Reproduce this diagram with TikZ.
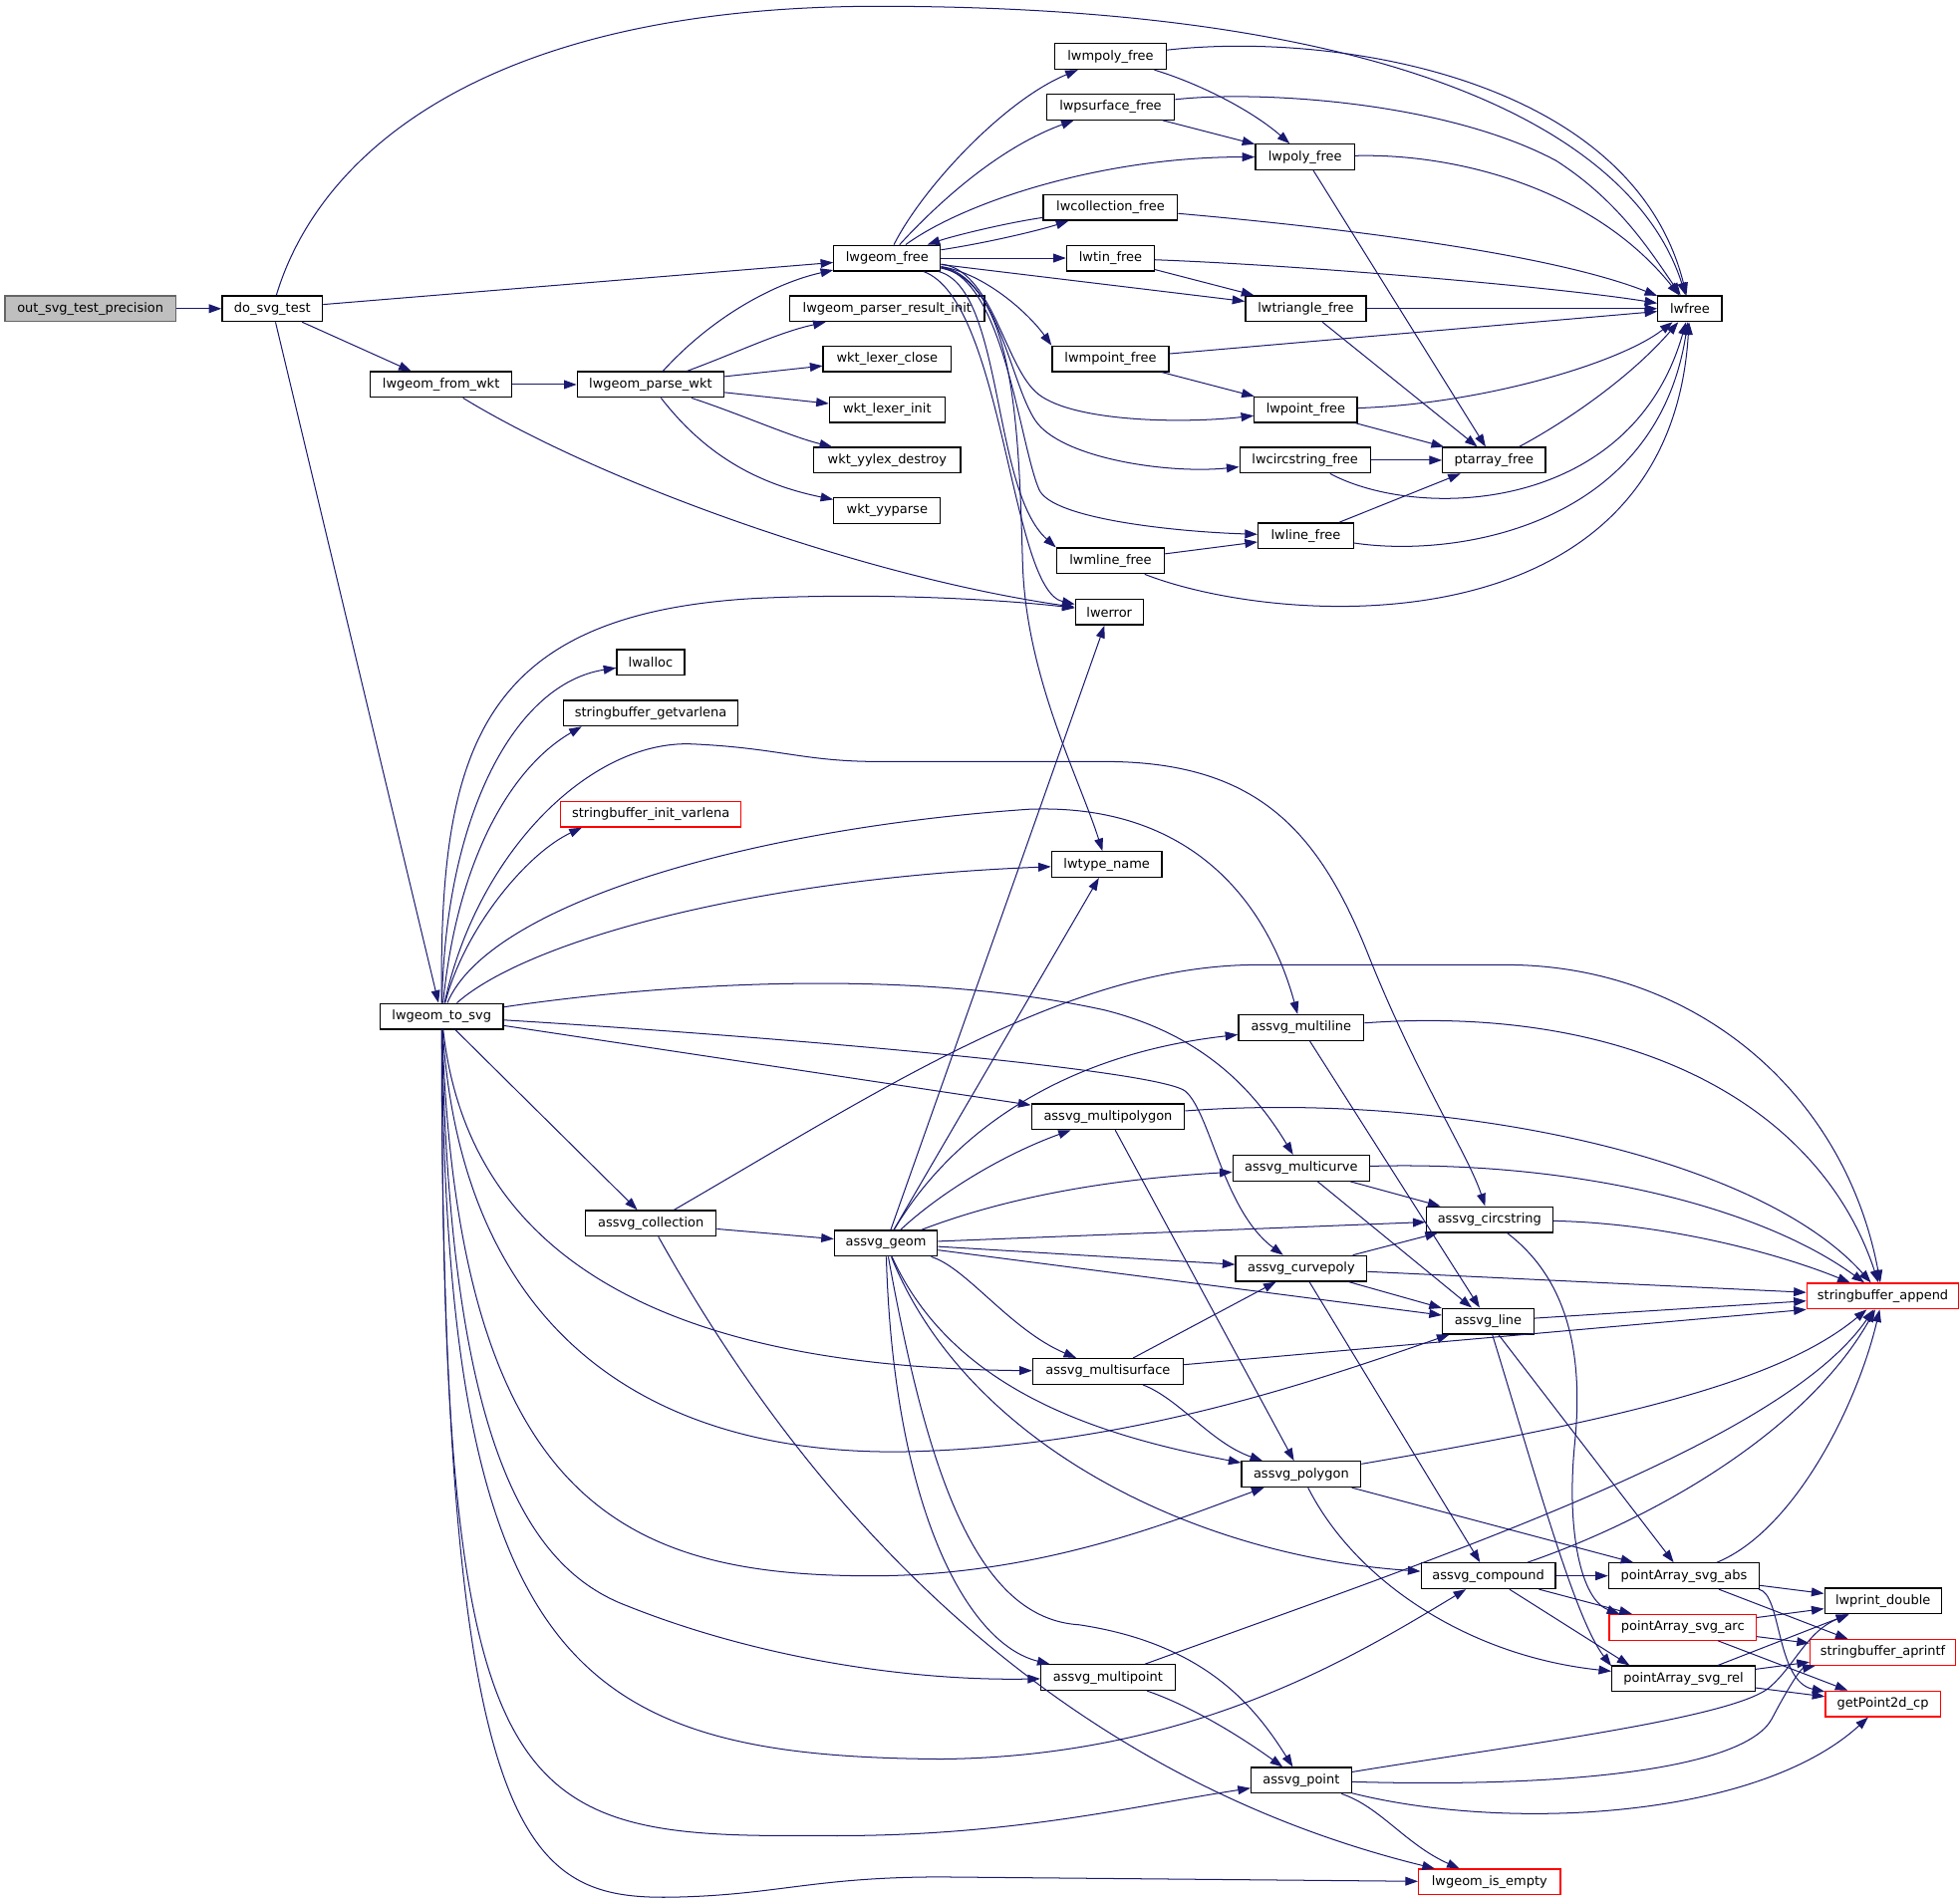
\documentclass[tikz,border=0pt]{standalone}
\usepackage{fontspec}
\setmainfont{DejaVu Sans}
\usepackage{xcolor}
\usepackage{tikz}
\usetikzlibrary{arrows.meta}
\definecolor{edgeblue}{RGB}{25,25,112}
\definecolor{rootgray}{RGB}{191,191,191}

\begin{document}
\begin{tikzpicture}[x=1pt, y=-1pt,
  fn/.style={draw=black, fill=white, line width=1pt, minimum height=20.4pt, inner sep=0pt, font=\fontsize{10.3}{12}\selectfont},
  fnred/.style={fn, draw=red},
  fnroot/.style={fn, draw=black!60, fill=rootgray},
  call/.style={edgeblue, line width=0.8pt, -{Triangle[length=10pt,width=7pt]}}]
\useasboundingbox (0,0) rectangle (1562,1514);

\node[fnroot, minimum width=136pt] (root) at (72,246) {out\_svg\_test\_precision};
\node[fn, minimum width=80pt] (dosvg) at (217,246) {do\_svg\_test};
\node[fn, minimum width=113pt] (fromwkt) at (351.5,306.5) {lwgeom\_from\_wkt};
\node[fn, minimum width=117pt] (parsewkt) at (518.5,306.5) {lwgeom\_parse\_wkt};
\node[fn, minimum width=85pt] (lwgeomfree) at (707,205.7) {lwgeom\_free};
\node[fn, minimum width=155pt] (resinit) at (707,246) {lwgeom\_parser\_result\_init};
\node[fn, minimum width=102pt] (lexclose) at (707,286) {wkt\_lexer\_close};
\node[fn, minimum width=92pt] (lexinit) at (707,326.6) {wkt\_lexer\_init};
\node[fn, minimum width=117pt] (yylexdestroy) at (707,366.8) {wkt\_yylex\_destroy};
\node[fn, minimum width=85pt] (yyparse) at (707,407) {wkt\_yyparse};
\node[fn, minimum width=89pt] (mpolyfree) at (885,45) {lwmpoly\_free};
\node[fn, minimum width=102pt] (psurffree) at (885,85.2) {lwpsurface\_free};
\node[fn, minimum width=107pt] (collfree) at (885,165.4) {lwcollection\_free};
\node[fn, minimum width=70pt] (tinfree) at (885,205.7) {lwtin\_free};
\node[fn, minimum width=93pt] (mpointfree) at (885,286) {lwmpoint\_free};
\node[fn, minimum width=86pt] (mlinefree) at (885,447) {lwmline\_free};
\node[fn, minimum width=54pt] (lwerror) at (884,487.8) {lwerror};
\node[fn, minimum width=79pt] (polyfree) at (1040,125.2) {lwpoly\_free};
\node[fn, minimum width=96pt] (trifree) at (1040.6,246) {lwtriangle\_free};
\node[fn, minimum width=82pt] (pointfree) at (1040.6,326.6) {lwpoint\_free};
\node[fn, minimum width=104pt] (circfree) at (1040,366.8) {lwcircstring\_free};
\node[fn, minimum width=76pt] (linefree) at (1040.6,427) {lwline\_free};
\node[fn, minimum width=82pt] (ptarrayfree) at (1190.6,366.8) {ptarray\_free};
\node[fn, minimum width=51pt] (lwfree) at (1346.7,246) {lwfree};
\node[fn, minimum width=54pt] (lwalloc) at (518.5,528) {lwalloc};
\node[fn, minimum width=139pt] (getvarlena) at (518.6,568.4) {stringbuffer\_getvarlena};
\node[fnred, minimum width=144pt] (initvarlena) at (518.7,649) {stringbuffer\_init\_varlena};
\node[fn, minimum width=88pt] (typename) at (882,689) {lwtype\_name};
\node[fn, minimum width=98pt] (tosvg) at (352,810) {lwgeom\_to\_svg};
\node[fn, minimum width=100pt] (mline) at (1037,819) {assvg\_multiline};
\node[fn, minimum width=122pt] (mpoly) at (883,890) {assvg\_multipolygon};
\node[fn, minimum width=109pt] (mcurve) at (1037,931) {assvg\_multicurve};
\node[fn, minimum width=104pt] (coll) at (518.7,975) {assvg\_collection};
\node[fn, minimum width=101pt] (circ) at (1187,972) {assvg\_circstring};
\node[fn, minimum width=82pt] (geom) at (706,991) {assvg\_geom};
\node[fn, minimum width=104.5pt] (cpoly) at (1037,1011) {assvg\_curvepoly};
\node[fnred, minimum width=121pt] (append) at (1500.5,1033) {stringbuffer\_append};
\node[fn, minimum width=73pt] (line) at (1186,1053) {assvg\_line};
\node[fn, minimum width=120pt] (msurf) at (883,1093) {assvg\_multisurface};
\node[fn, minimum width=95pt] (poly) at (1037,1175) {assvg\_polygon};
\node[fn, minimum width=107pt] (compound) at (1186,1256) {assvg\_compound};
\node[fn, minimum width=120pt] (abs) at (1342,1256) {pointArray\_svg\_abs};
\node[fn, minimum width=93pt] (lwprint) at (1500.6,1276) {lwprint\_double};
\node[fnred, minimum width=117pt] (arc) at (1341,1297) {pointArray\_svg\_arc};
\node[fnred, minimum width=116pt] (aprintf) at (1500.5,1317) {stringbuffer\_aprintf};
\node[fn, minimum width=107pt] (mpoint) at (883,1337) {assvg\_multipoint};
\node[fn, minimum width=114pt] (rel) at (1341.6,1338) {pointArray\_svg\_rel};
\node[fnred, minimum width=91.5pt] (getpoint) at (1500.5,1358) {getPoint2d\_cp};
\node[fn, minimum width=80pt] (point) at (1037,1419) {assvg\_point};
\node[fnred, minimum width=113pt] (isempty) at (1187,1500) {lwgeom\_is\_empty};

\draw[call] (root) -- (dosvg);
\draw[call] (dosvg) -- (lwgeomfree);
\draw[call] (dosvg) .. controls (255,120) and (390,5) .. (700,5) .. controls (1100,5) and (1300,100) .. (lwfree);
\draw[call] (dosvg) -- (fromwkt);
\draw[call] (dosvg) -- (tosvg);
\draw[call] (fromwkt) -- (parsewkt);
\draw[call] (fromwkt) .. controls (480,385) and (690,460) .. (lwerror);
\draw[call] (parsewkt) .. controls (570,250) and (620,225) .. (lwgeomfree);
\draw[call] (parsewkt) .. controls (590,280) and (620,265) .. (resinit);
\draw[call] (parsewkt) -- (lexclose);
\draw[call] (parsewkt) -- (lexinit);
\draw[call] (parsewkt) .. controls (590,330) and (630,348) .. (yylexdestroy);
\draw[call] (parsewkt) .. controls (560,360) and (600,385) .. (yyparse);

\draw[call] (lwgeomfree) .. controls (735,150) and (800,80) .. (mpolyfree);
\draw[call] (lwgeomfree) .. controls (740,170) and (790,120) .. (psurffree);
\draw[call] (lwgeomfree) .. controls (770,160) and (880,125) .. (polyfree);
\draw[call] (lwgeomfree) .. controls (790,193) and (830,183) .. (collfree);
\draw[call] (collfree) .. controls (800,178) and (760,188) .. (lwgeomfree);
\draw[call] (lwgeomfree) -- (tinfree);
\draw[call] (lwgeomfree) -- (trifree);
\draw[call] (lwgeomfree) .. controls (785,218) and (820,250) .. (mpointfree.north west);
\draw[call] (lwgeomfree) .. controls (790,215) and (800,288) .. (825,312) .. controls (850,336) and (940,338) .. (pointfree);
\draw[call] (lwgeomfree) .. controls (795,220) and (805,305) .. (825,335) .. controls (845,365) and (930,378) .. (circfree);
\draw[call] (lwgeomfree) .. controls (800,222) and (812,352) .. (828,390) .. controls (838,414) and (940,424) .. (linefree);
\draw[call] (lwgeomfree) .. controls (800,230) and (790,390) .. (mlinefree.north west);
\draw[call] (lwgeomfree) .. controls (800,240) and (805,470) .. (lwerror);
\draw[call] (lwgeomfree) .. controls (810,225) and (812,350) .. (815,450) .. controls (818,540) and (860,620) .. (typename);

\draw[call] (mpolyfree) .. controls (960,68) and (1000,90) .. (polyfree);
\draw[call] (mpolyfree) .. controls (1060,25) and (1300,60) .. (lwfree);
\draw[call] (psurffree) -- (polyfree);
\draw[call] (psurffree) .. controls (1000,72) and (1150,80) .. (1240,128) .. controls (1290,160) and (1315,200) .. (lwfree);
\draw[call] (polyfree) -- (ptarrayfree);
\draw[call] (polyfree) .. controls (1160,122) and (1270,150) .. (lwfree);
\draw[call] (collfree) .. controls (1050,180) and (1230,200) .. (lwfree);
\draw[call] (tinfree) -- (trifree);
\draw[call] (tinfree) .. controls (1050,212) and (1250,230) .. (lwfree);
\draw[call] (trifree) -- (lwfree);
\draw[call] (trifree) -- (ptarrayfree);
\draw[call] (mpointfree) -- (lwfree);
\draw[call] (mpointfree) -- (pointfree);
\draw[call] (pointfree) .. controls (1180,322) and (1290,290) .. (lwfree);
\draw[call] (pointfree) -- (ptarrayfree);
\draw[call] (circfree) -- (ptarrayfree);
\draw[call] (circfree) .. controls (1130,415) and (1300,410) .. (lwfree);
\draw[call] (linefree) -- (ptarrayfree);
\draw[call] (linefree) .. controls (1160,445) and (1320,420) .. (lwfree);
\draw[call] (mlinefree) -- (linefree);
\draw[call] (mlinefree) .. controls (1020,500) and (1330,520) .. (lwfree);
\draw[call] (ptarrayfree) .. controls (1250,335) and (1300,300) .. (lwfree);

\draw[call] (tosvg) .. controls (350,600) and (380,490) .. (600,477) .. controls (700,472) and (800,478) .. (lwerror);
\draw[call] (tosvg) .. controls (355,650) and (410,545) .. (lwalloc);
\draw[call] (tosvg) .. controls (365,680) and (410,610) .. (getvarlena.191);
\draw[call] (tosvg) .. controls (370,740) and (420,680) .. (initvarlena.191);
\draw[call] (tosvg) .. controls (380,680) and (470,590) .. (551,593) .. controls (620,596) and (640,607) .. (700,607) -- (880,607) .. controls (1000,607) and (1050,660) .. (1090,760) .. controls (1130,860) and (1170,920) .. (circ);
\draw[call] (tosvg) .. controls (390,720) and (600,660) .. (820,645) .. controls (950,640) and (1010,720) .. (mline);
\draw[call] (tosvg) .. controls (420,750) and (600,700) .. (typename);
\draw[call] (tosvg) .. controls (520,785) and (720,770) .. (880,805) .. controls (960,825) and (1000,870) .. (mcurve);
\draw[call] (tosvg) .. controls (600,825) and (925,852) .. (945,870) .. controls (965,888) and (975,965) .. (cpoly);
\draw[call] (tosvg) -- (mpoly);
\draw[call] (tosvg) -- (coll);
\draw[call] (tosvg) .. controls (375,1020) and (560,1090) .. (msurf);
\draw[call] (tosvg) .. controls (370,1090) and (550,1160) .. (722,1157) .. controls (900,1153) and (1050,1100) .. (line);
\draw[call] (tosvg) .. controls (365,1200) and (500,1255) .. (690,1256) .. controls (830,1257) and (940,1210) .. (poly);
\draw[call] (tosvg) .. controls (358,1150) and (420,1250) .. (500,1280) .. controls (600,1320) and (720,1340) .. (mpoint);
\draw[call] (tosvg) .. controls (355,1330) and (460,1400) .. (750,1402) .. controls (950,1400) and (1080,1320) .. (compound);
\draw[call] (tosvg) .. controls (352,1440) and (400,1465) .. (650,1463) .. controls (800,1465) and (900,1440) .. (point);
\draw[call] (tosvg) .. controls (352,1480) and (420,1515) .. (540,1512) .. controls (620,1510) and (650,1496) .. (750,1496) -- (isempty);

\draw[call] (coll) -- (geom);
\draw[call] (coll) .. controls (700,870) and (850,770) .. (1000,769) -- (1200,769) .. controls (1350,769) and (1470,870) .. (append);
\draw[call] (coll) .. controls (600,1120) and (780,1400) .. (isempty);

\draw[call] (geom) -- (lwerror);
\draw[call] (geom) -- (typename);
\draw[call] (geom) .. controls (760,900) and (850,840) .. (mline);
\draw[call] (geom) .. controls (750,950) and (800,920) .. (mpoly);
\draw[call] (geom) .. controls (800,955) and (880,940) .. (mcurve);
\draw[call] (geom) -- (circ);
\draw[call] (geom) -- (cpoly);
\draw[call] (geom) -- (line);
\draw[call] (geom) .. controls (770,1010) and (805,1060) .. (msurf);
\draw[call] (geom) .. controls (760,1110) and (880,1145) .. (poly);
\draw[call] (geom) .. controls (770,1150) and (950,1240) .. (compound);
\draw[call] (geom) .. controls (712,1200) and (770,1310) .. (mpoint.167);
\draw[call] (geom) .. controls (740,1180) and (780,1290) .. (860,1295) .. controls (960,1310) and (1000,1360) .. (point);

\draw[call] (mline) .. controls (1300,800) and (1450,880) .. (append);
\draw[call] (mline) -- (line);
\draw[call] (mpoly) .. controls (1150,870) and (1400,920) .. (append);
\draw[call] (mpoly) -- (poly);
\draw[call] (mcurve) -- (circ);
\draw[call] (mcurve) -- (line);
\draw[call] (mcurve) .. controls (1250,925) and (1400,960) .. (append);
\draw[call] (circ) .. controls (1330,975) and (1420,1000) .. (append);
\draw[call] (circ) .. controls (1250,1020) and (1262,1080) .. (1255,1150) .. controls (1248,1220) and (1260,1275) .. (arc.168);
\draw[call] (cpoly) -- (circ);
\draw[call] (cpoly) -- (line);
\draw[call] (cpoly) -- (append);
\draw[call] (cpoly) -- (compound);
\draw[call] (line) -- (append);
\draw[call] (line) -- (abs);
\draw[call] (line) .. controls (1225,1180) and (1255,1290) .. (rel.170);
\draw[call] (msurf) -- (cpoly);
\draw[call] (msurf) .. controls (940,1115) and (965,1150) .. (poly);
\draw[call] (msurf) -- (append.south west);
\draw[call] (poly) .. controls (1300,1130) and (1420,1100) .. (append);
\draw[call] (poly) -- (abs);
\draw[call] (poly) .. controls (1080,1260) and (1170,1320) .. (rel);
\draw[call] (compound) .. controls (1320,1210) and (1440,1140) .. (append);
\draw[call] (compound) -- (abs);
\draw[call] (compound) -- (arc);
\draw[call] (compound) -- (rel.166);
\draw[call] (abs) .. controls (1430,1220) and (1480,1120) .. (append);
\draw[call] (abs) -- (lwprint);
\draw[call] (abs) -- (aprintf);
\draw[call] (abs) .. controls (1420,1270) and (1415,1340) .. (getpoint);
\draw[call] (arc) -- (lwprint);
\draw[call] (arc) -- (aprintf);
\draw[call] (arc) -- (getpoint);
\draw[call] (rel) -- (lwprint);
\draw[call] (rel) -- (aprintf);
\draw[call] (rel) -- (getpoint);
\draw[call] (mpoint) .. controls (1150,1240) and (1420,1150) .. (append);
\draw[call] (mpoint) .. controls (950,1360) and (990,1385) .. (point);
\draw[call] (point) .. controls (1200,1392) and (1380,1370) .. (1410,1345) .. controls (1430,1328) and (1440,1300) .. (lwprint);
\draw[call] (point) .. controls (1250,1425) and (1390,1410) .. (1412,1370) .. controls (1425,1345) and (1435,1330) .. (aprintf);
\draw[call] (point) .. controls (1200,1460) and (1400,1450) .. (getpoint);
\draw[call] (point) .. controls (1100,1440) and (1120,1470) .. (isempty);
\end{tikzpicture}
\end{document}
